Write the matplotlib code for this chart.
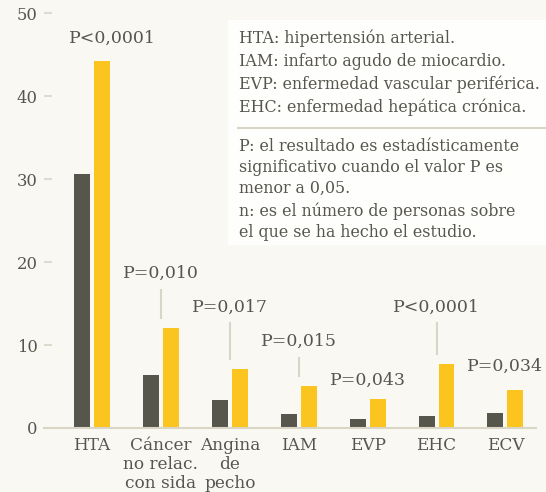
import numpy as np
import matplotlib
matplotlib.use("Agg")
import matplotlib.pyplot as plt

# datos
categorias = ["HTA", "Cáncer\nno relac.\ncon sida", "Angina\nde\npecho",
              "IAM", "EVP", "EHC", "ECV"]
grupo_oscuro = [30.6, 6.4, 3.4, 1.7, 1.1, 1.45, 1.8]
grupo_amarillo = [44.3, 12.1, 7.1, 5.1, 3.5, 7.7, 4.6]
p_valores = ["P<0,0001", "P=0,010", "P=0,017", "P=0,015",
             "P=0,043", "P<0,0001", "P=0,034"]
p_altura = [47.0, 18.6, 14.6, 10.4, 5.7, 14.6, 7.4]
p_linea = [False, True, True, True, False, True, False]
y_ticks = [0, 10, 20, 30, 40, 50]

notas_1 = ["HTA: hipertensión arterial.",
           "IAM: infarto agudo de miocardio.",
           "EVP: enfermedad vascular periférica.",
           "EHC: enfermedad hepática crónica."]
notas_2 = ["P: el resultado es estadísticamente",
           "significativo cuando el valor P es",
           "menor a 0,05.",
           "n: es el número de personas sobre",
           "el que se ha hecho el estudio."]

BG = "#f9f8f3"
DARK = "#57564c"
YELLOW = "#fcc41e"
TXT = "#57564e"
LIGHT = "#d9d6c6"
FONT = "DejaVu Serif"

fig = plt.figure(figsize=(5.46, 4.92), dpi=100, facecolor=BG)
ax = fig.add_axes([44 / 546, 64 / 492, 492 / 546, 414.7 / 492])
ax.set_facecolor(BG)

x = np.arange(len(categorias))
w = 0.232
off = 0.145
ax.bar(x - off, grupo_oscuro, w, color=DARK, zorder=2)
ax.bar(x + off, grupo_amarillo, w, color=YELLOW, zorder=2)

ax.set_xlim(-0.697, 6.444)
ax.set_ylim(0, 50)

for s in ["top", "right", "left"]:
    ax.spines[s].set_visible(False)
ax.spines["bottom"].set_color(LIGHT)
ax.spines["bottom"].set_linewidth(1.5)
ax.spines["bottom"].set_zorder(3)

ax.set_yticks(y_ticks)
ax.set_yticklabels([str(t) for t in y_ticks], fontfamily=FONT, fontsize=11.8, color=TXT)
ax.tick_params(axis="y", direction="in", length=5.8, width=1.2, color=LIGHT, pad=4.5)
ax.set_xticks(x)
ax.set_xticklabels(categorias, fontfamily=FONT, fontsize=12.2, color=TXT,
                   linespacing=1.15, va="top")
ax.tick_params(axis="x", length=0, pad=6.5)

# p-valores
for i, (txt, h, ln) in enumerate(zip(p_valores, p_altura, p_linea)):
    tx = i + 0.3 if i == 0 else i
    ax.text(tx, h, txt, ha="center", va="center", fontfamily=FONT,
            fontsize=12.5, color=TXT)
    if ln:
        ax.plot([i, i], [grupo_amarillo[i] + 1.2, h - 2.0], color=LIGHT,
                lw=1.5, zorder=1)

# cuadro de notas
box = fig.add_axes([228 / 546, 1 - 245 / 492, (546 - 228) / 546, 225 / 492])
box.set_xlim(228, 546)
box.set_ylim(245, 20)
box.set_facecolor("#fefefc")
box.set_xticks([])
box.set_yticks([])
for s in box.spines.values():
    s.set_visible(False)

for k, t in enumerate(notas_1):
    box.text(239, 38 + k * 23, t, va="center", ha="left", fontfamily=FONT,
             fontsize=11.4, color=TXT)
box.plot([238, 546], [128, 128], color=LIGHT, lw=1.5)
ys = [146, 167, 188, 211, 232]
for y, t in zip(ys, notas_2):
    box.text(239, y, t, va="center", ha="left", fontfamily=FONT,
             fontsize=11.4, color=TXT)

fig.savefig("out.png", dpi=100, facecolor=BG)
